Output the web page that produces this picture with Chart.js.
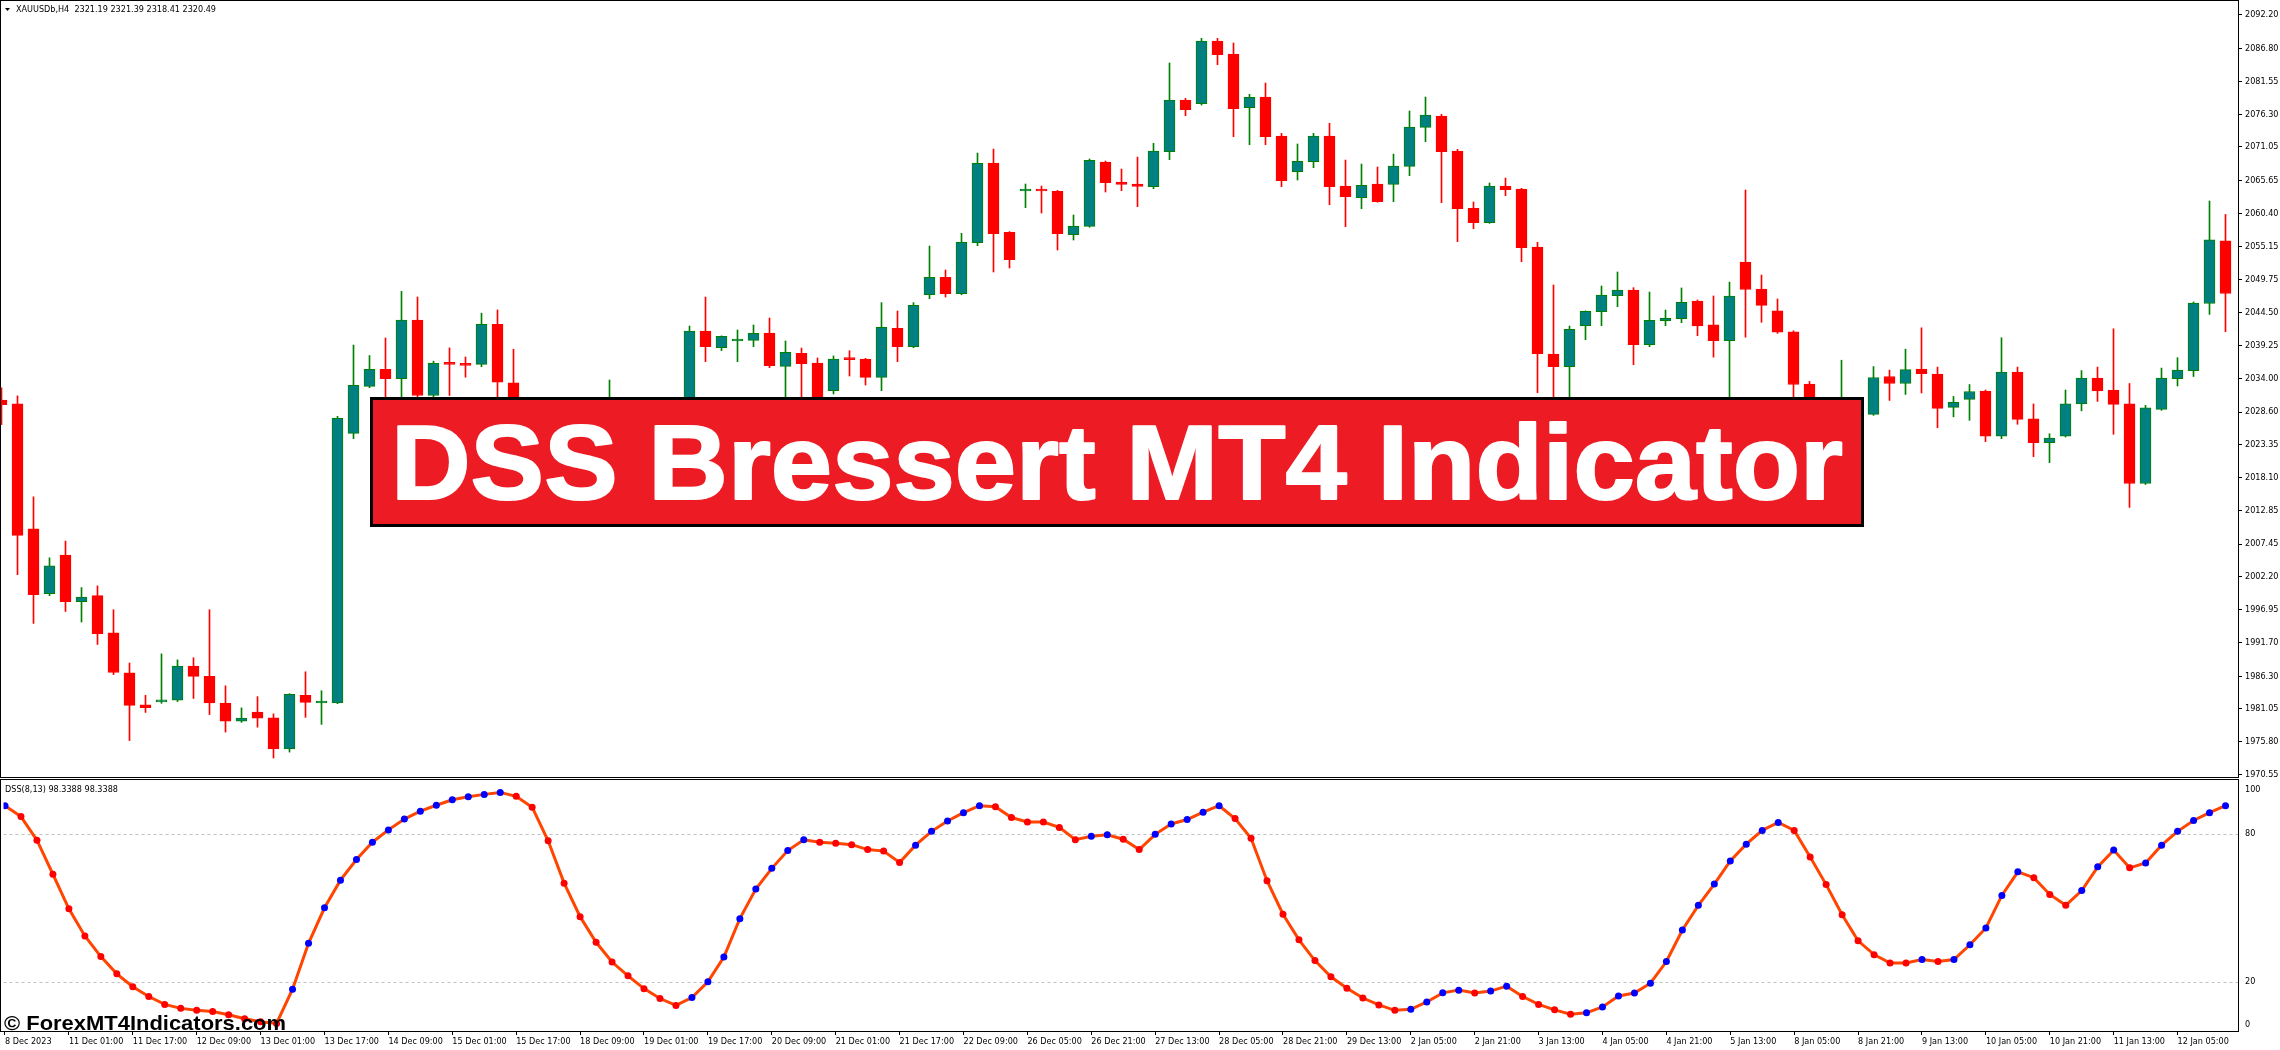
<!DOCTYPE html>
<html>
<head>
<meta charset="utf-8">
<title>DSS Bressert MT4 Indicator</title>
<script src="https://cdn.jsdelivr.net/npm/chart.js@4.4.1/dist/chart.umd.min.js"></script>
<style>
  html, body { margin: 0; padding: 0; background: #fff; }
  #wrap { position: relative; width: 2280px; height: 1050px; overflow: hidden; background: #fff; }
  canvas { position: absolute; left: 0; }
  #price { top: 0; }
  #dss { top: 779px; }
</style>
</head>
<body>
<div id="wrap">
  <canvas id="price" width="2280" height="779"></canvas>
  <canvas id="dss" width="2280" height="271"></canvas>
</div>
<script>
// XAUUSDb H4 candles (bars hidden by the banner are estimates)
const opens = [
  2030.52, 2029.90, 2009.91, 1999.52, 2005.70, 1998.23, 1999.19, 1993.24, 1986.83, 1981.72,
  1982.17, 1982.45, 1987.90, 1986.27, 1982.00, 1979.08, 1980.54, 1979.64, 1974.65, 1983.24,
  1982.00, 1982.00, 2025.18, 2032.71, 2035.46, 2033.94, 2043.32, 2031.25, 2036.41, 2036.24,
  2036.24, 2042.65, 2033.27, 2028.50, 2025.00, 2026.80, 2022.50, 2019.80, 2020.80, 2022.20,
  2019.00, 2016.80, 2018.50, 2017.20, 2041.58, 2038.91, 2039.98, 2040.08, 2041.26, 2035.92,
  2038.00, 2036.45, 2032.02, 2037.04, 2037.09, 2034.16, 2042.01, 2039.07, 2047.40, 2050.17,
  2047.56, 2055.72, 2068.48, 2057.38, 2064.00, 2064.11, 2063.95, 2057.01, 2058.34, 2068.64,
  2065.44, 2065.12, 2064.69, 2070.30, 2078.57, 2077.98, 2088.02, 2085.94, 2077.34, 2079.05,
  2072.81, 2067.09, 2068.70, 2072.81, 2064.80, 2062.93, 2065.12, 2065.07, 2067.95, 2074.20,
  2076.01, 2070.40, 2061.22, 2058.93, 2064.80, 2064.32, 2055.03, 2037.89, 2035.87, 2042.43,
  2044.68, 2047.24, 2048.14, 2039.39, 2043.23, 2043.56, 2046.39, 2042.57, 2040.02, 2052.61,
  2048.31, 2044.80, 2041.46, 2033.09, 2026.20, 2023.00, 2029.40, 2028.23, 2034.29, 2033.17,
  2035.48, 2034.68, 2029.35, 2030.62, 2031.97, 2024.73, 2035.00, 2027.51, 2023.69, 2024.73,
  2029.90, 2034.04, 2032.13, 2029.90, 2017.16, 2029.03, 2033.96, 2035.24, 2045.99, 2056.03
];
const highs = [
  2032.48, 2031.19, 2015.02, 2005.25, 2007.94, 2000.48, 2000.76, 1996.94, 1988.40, 1983.24,
  1989.87, 1988.91, 1989.25, 1996.94, 1984.75, 1981.22, 1983.02, 1980.26, 1983.50, 1987.00,
  1983.97, 2027.93, 2039.33, 2037.65, 2040.46, 2047.92, 2047.03, 2036.75, 2038.88, 2037.42,
  2044.44, 2044.95, 2038.66, 2029.80, 2028.20, 2027.50, 2023.60, 2022.40, 2033.73, 2023.00,
  2020.40, 2019.60, 2019.80, 2042.38, 2047.02, 2040.80, 2041.74, 2042.54, 2043.66, 2039.98,
  2038.85, 2037.26, 2037.58, 2038.43, 2037.20, 2046.12, 2044.78, 2046.12, 2055.19, 2051.35,
  2057.22, 2070.08, 2070.72, 2057.50, 2065.12, 2064.80, 2064.10, 2060.15, 2069.12, 2068.80,
  2067.52, 2069.44, 2071.63, 2084.50, 2078.84, 2088.45, 2088.45, 2087.70, 2079.48, 2081.29,
  2073.23, 2071.53, 2073.23, 2074.84, 2068.96, 2068.32, 2067.84, 2069.92, 2076.81, 2079.05,
  2076.28, 2070.67, 2062.24, 2065.28, 2066.08, 2064.43, 2055.78, 2048.95, 2042.38, 2044.80,
  2048.79, 2051.03, 2048.52, 2047.82, 2044.94, 2048.47, 2046.55, 2047.19, 2049.42, 2064.16,
  2050.54, 2046.71, 2041.62, 2033.50, 2027.80, 2036.90, 2030.60, 2035.88, 2035.32, 2038.67,
  2042.09, 2035.80, 2031.10, 2033.01, 2032.13, 2040.50, 2035.80, 2029.90, 2025.12, 2032.13,
  2035.24, 2035.80, 2041.93, 2033.17, 2029.67, 2035.64, 2037.31, 2046.23, 2062.40, 2060.25
];
const lows = [
  2026.59, 2002.55, 1994.75, 1999.20, 1996.66, 1994.97, 1991.38, 1986.55, 1975.99, 1980.49,
  1981.95, 1982.23, 1982.73, 1980.15, 1977.34, 1978.90, 1978.13, 1973.19, 1974.14, 1979.70,
  1978.58, 1981.90, 2024.34, 2032.50, 2030.00, 2029.50, 2029.80, 2029.60, 2031.25, 2034.17,
  2035.85, 2030.20, 2027.50, 2023.80, 2023.50, 2021.20, 2018.50, 2018.20, 2019.50, 2017.90,
  2015.50, 2015.20, 2015.80, 2016.50, 2036.67, 2038.43, 2036.67, 2039.07, 2035.71, 2029.80,
  2030.00, 2029.80, 2031.49, 2034.37, 2032.93, 2032.02, 2036.67, 2038.90, 2046.76, 2047.02,
  2047.40, 2055.24, 2051.03, 2051.67, 2061.33, 2060.47, 2054.55, 2056.15, 2058.20, 2063.84,
  2064.05, 2061.49, 2064.37, 2069.02, 2076.06, 2077.77, 2084.23, 2072.70, 2071.42, 2071.42,
  2064.69, 2065.76, 2067.74, 2061.81, 2058.29, 2061.17, 2062.20, 2062.29, 2066.45, 2071.90,
  2062.13, 2055.89, 2057.97, 2058.82, 2063.25, 2052.68, 2031.70, 2029.00, 2029.50, 2040.19,
  2042.43, 2045.48, 2036.19, 2039.07, 2042.43, 2042.91, 2040.82, 2037.39, 2029.50, 2040.58,
  2042.97, 2041.20, 2030.00, 2025.00, 2021.60, 2022.40, 2026.30, 2028.07, 2030.46, 2031.42,
  2031.66, 2026.08, 2027.83, 2027.28, 2023.85, 2024.33, 2026.64, 2021.46, 2020.50, 2024.60,
  2028.79, 2030.30, 2025.04, 2013.33, 2017.00, 2028.87, 2032.77, 2034.29, 2044.24, 2041.46
];
const closes = [
  2029.79, 2008.84, 1999.35, 2003.96, 1998.23, 1998.96, 1993.12, 1986.89, 1981.61, 1981.27,
  1982.51, 1987.90, 1986.27, 1982.00, 1979.08, 1979.59, 1979.59, 1974.65, 1983.41, 1982.11,
  1982.11, 2027.60, 2032.88, 2035.46, 2033.94, 2043.32, 2031.25, 2036.41, 2036.24, 2036.08,
  2042.65, 2033.38, 2028.50, 2025.00, 2026.80, 2022.50, 2019.80, 2021.00, 2022.20, 2019.00,
  2016.80, 2018.50, 2017.20, 2041.58, 2039.07, 2040.72, 2040.14, 2041.20, 2036.03, 2038.16,
  2036.35, 2030.60, 2037.09, 2036.99, 2034.16, 2042.16, 2039.07, 2045.69, 2050.17, 2047.56,
  2055.78, 2068.43, 2057.17, 2053.00, 2064.11, 2064.00, 2057.17, 2058.34, 2068.91, 2065.33,
  2065.07, 2064.75, 2070.40, 2078.57, 2077.02, 2088.02, 2085.83, 2077.18, 2079.00, 2072.70,
  2065.65, 2068.75, 2072.81, 2064.69, 2063.09, 2064.91, 2062.29, 2068.00, 2074.25, 2076.17,
  2070.30, 2061.17, 2058.93, 2064.80, 2064.21, 2054.92, 2037.95, 2035.87, 2041.85, 2044.73,
  2047.34, 2048.14, 2039.39, 2043.29, 2043.61, 2046.17, 2042.41, 2040.02, 2047.19, 2048.23,
  2045.68, 2041.38, 2033.01, 2026.20, 2023.00, 2029.40, 2028.20, 2034.13, 2033.17, 2035.40,
  2034.76, 2029.19, 2030.14, 2031.89, 2024.73, 2035.00, 2027.43, 2023.69, 2024.41, 2029.90,
  2034.04, 2031.97, 2029.82, 2017.16, 2029.27, 2034.04, 2035.32, 2046.07, 2056.19, 2047.59
];

// DSS Bressert (8,13) values, one per candle
const dssValues = [
  91.5, 87.1, 77.5, 63.7, 49.7, 38.7, 30.3, 23.3, 18.1, 14.1,
  10.9, 9.3, 8.5, 8.0, 6.7, 5.1, 3.9, 3.2, 17.1, 35.7,
  50.1, 61.3, 69.7, 76.7, 81.7, 86.1, 89.3, 91.7, 93.9, 95.1,
  96.1, 96.9, 95.3, 90.9, 77.3, 60.1, 46.5, 36.1, 28.1, 22.5,
  17.3, 13.3, 10.5, 13.7, 20.1, 30.1, 45.7, 57.7, 66.1, 73.3,
  77.7, 76.7, 76.3, 75.7, 73.7, 73.1, 68.5, 75.5, 81.1, 85.3,
  88.7, 91.5, 91.1, 86.7, 84.9, 84.9, 82.7, 77.7, 79.1, 79.7,
  77.9, 73.7, 79.9, 84.1, 85.9, 88.9, 91.5, 86.3, 78.3, 61.1,
  47.5, 37.1, 28.7, 22.1, 17.5, 13.5, 10.7, 8.5, 8.9, 11.9,
  15.6, 16.7, 15.5, 16.3, 18.3, 14.1, 10.9, 8.7, 6.9, 7.5,
  9.9, 14.3, 15.5, 19.5, 28.3, 41.1, 51.1, 59.7, 69.1, 75.9,
  81.5, 84.7, 81.5, 70.7, 59.5, 47.3, 36.7, 31.1, 27.7, 27.7,
  29.1, 28.3, 29.1, 35.1, 41.9, 55.1, 64.7, 62.3, 55.5, 51.1,
  57.1, 66.7, 73.5, 66.3, 68.3, 75.5, 81.1, 85.5, 88.7, 91.5
];

// axis labels, one time label every 4 bars
const timeLabels = [
  '8 Dec 2023', '11 Dec 01:00', '11 Dec 17:00', '12 Dec 09:00', '13 Dec 01:00', '13 Dec 17:00',
  '14 Dec 09:00', '15 Dec 01:00', '15 Dec 17:00', '18 Dec 09:00', '19 Dec 01:00', '19 Dec 17:00',
  '20 Dec 09:00', '21 Dec 01:00', '21 Dec 17:00', '22 Dec 09:00', '26 Dec 05:00', '26 Dec 21:00',
  '27 Dec 13:00', '28 Dec 05:00', '28 Dec 21:00', '29 Dec 13:00', '2 Jan 05:00', '2 Jan 21:00',
  '3 Jan 13:00', '4 Jan 05:00', '4 Jan 21:00', '5 Jan 13:00', '8 Jan 05:00', '8 Jan 21:00',
  '9 Jan 13:00', '10 Jan 05:00', '10 Jan 21:00', '11 Jan 13:00', '12 Jan 05:00'
];
const priceTicks = [
  2092.20, 2086.80, 2081.55, 2076.30, 2071.05, 2065.65, 2060.40, 2055.15, 2049.75, 2044.50,
  2039.25, 2034.00, 2028.60, 2023.35, 2018.10, 2012.85, 2007.45, 2002.20, 1996.95, 1991.70,
  1986.30, 1981.05, 1975.80, 1970.55
];
const dssLevels = [80, 20];
const dssAxisLabels = [100, 80, 20, 0];

const BAR_STEP = 16;
const X_MIN = -1.5 / BAR_STEP;
const X_MAX = X_MIN + 2238 / BAR_STEP;
const PRICE_MIN = 1969.99;
const PRICE_MAX = 2094.59;

const SMALL_FAMILY = '"DejaVu Sans Condensed", "DejaVu Sans", sans-serif';
const smallFont = { family: SMALL_FAMILY, size: 9 };

function isBull(i) {
  return i !== undefined && closes[i] >= opens[i];
}

// axes keep a fixed size and must not shrink the plot for their labels
function fixAxis(size) {
  return s => {
    if (s.isHorizontal()) s.height = size; else s.width = size;
    s.paddingTop = 0;
    s.paddingBottom = 0;
    s.paddingLeft = 0;
    s.paddingRight = 0;
  };
}

// fit a text into a given width by stretching it horizontally
function drawFitted(ctx, text, x, y, width, font, fill, stroke) {
  ctx.save();
  ctx.font = font;
  const w = ctx.measureText(text).width;
  ctx.translate(x, y);
  ctx.scale(width / w, 1);
  ctx.textBaseline = 'alphabetic';
  ctx.textAlign = 'left';
  if (stroke) {
    ctx.lineJoin = 'round';
    ctx.lineWidth = stroke;
    ctx.strokeStyle = fill;
    ctx.strokeText(text, 0, 0);
  }
  ctx.fillStyle = fill;
  ctx.fillText(text, 0, 0);
  ctx.restore();
}

const priceDecor = {
  id: 'priceDecor',
  afterDraw(chart) {
    const ctx = chart.ctx;
    const a = chart.chartArea;
    ctx.save();
    // window frame
    ctx.strokeStyle = '#000';
    ctx.lineWidth = 1;
    ctx.strokeRect(0.5, 0.5, a.right, 777);

    // symbol line
    ctx.fillStyle = '#000';
    ctx.beginPath();
    ctx.moveTo(5, 8);
    ctx.lineTo(10, 8);
    ctx.lineTo(7.5, 11);
    ctx.closePath();
    ctx.fill();
    ctx.font = '9px ' + SMALL_FAMILY;
    ctx.textBaseline = 'alphabetic';
    ctx.fillText('XAUUSDb,H4  2321.19 2321.39 2318.41 2320.49', 16, 12);

    // title banner
    ctx.fillStyle = '#ed1c24';
    ctx.fillRect(370, 397, 1494, 130);
    ctx.lineWidth = 3;
    ctx.strokeStyle = '#000';
    ctx.strokeRect(371.5, 398.5, 1491, 127);
    ctx.restore();
    drawFitted(ctx, 'DSS Bressert MT4 Indicator', 391, 499, 1452,
      'bold 105px "Liberation Sans", Arial, sans-serif', '#fff', 2);
  }
};

const dssDecor = {
  id: 'dssDecor',
  beforeDatasetsDraw(chart) {
    const ctx = chart.ctx;
    const a = chart.chartArea;
    const y = chart.scales.y;
    ctx.save();
    ctx.strokeStyle = '#c0c0c0';
    ctx.lineWidth = 1;
    ctx.setLineDash([3, 3]);
    dssLevels.forEach(v => {
      const py = Math.round(y.getPixelForValue(v)) + 0.5;
      ctx.beginPath();
      ctx.moveTo(a.left, py);
      ctx.lineTo(a.right, py);
      ctx.stroke();
    });
    ctx.restore();
  },
  afterDraw(chart) {
    const ctx = chart.ctx;
    const a = chart.chartArea;
    const y = chart.scales.y;
    ctx.save();
    ctx.strokeStyle = '#000';
    ctx.lineWidth = 1;
    ctx.strokeRect(0.5, 0.5, a.right, a.bottom);

    ctx.fillStyle = '#000';
    ctx.font = '9px ' + SMALL_FAMILY;
    ctx.textBaseline = 'alphabetic';
    ctx.fillText('DSS(8,13) 98.3388 98.3388', 5, 13);

    // level labels on the right scale, kept inside the window like MT4 does
    ctx.textBaseline = 'middle';
    dssAxisLabels.forEach(v => {
      let py = y.getPixelForValue(v);
      py = Math.min(Math.max(py, a.top + 7), a.bottom - 6);
      ctx.fillText(String(v), a.right + 7, py);
    });
    ctx.restore();

    drawFitted(ctx, '\u00a9 ForexMT4Indicators.com', 4, 251, 282,
      'bold 21px "Liberation Sans", Arial, sans-serif', '#000', 0);
  }
};

const idx = opens.map((_, i) => i);

new Chart(document.getElementById('price'), {
  type: 'bar',
  data: {
    datasets: [
      {
        label: 'body',
        data: idx.map(i => ({ x: i, y: [opens[i], closes[i]] })),
        backgroundColor: c => isBull(c.dataIndex) ? '#008080' : '#ff0000',
        borderColor: c => isBull(c.dataIndex) ? '#008000' : '#ff0000',
        borderWidth: 1,
        borderSkipped: false,
        barThickness: 11,
        minBarLength: 2,
        grouped: false,
        order: 0
      },
      {
        label: 'wick',
        data: idx.map(i => ({ x: i, y: [lows[i], highs[i]] })),
        backgroundColor: c => isBull(c.dataIndex) ? '#008000' : '#ff0000',
        borderWidth: 0,
        barThickness: 1,
        grouped: false,
        order: 1
      }
    ]
  },
  options: {
    responsive: false,
    animation: false,
    devicePixelRatio: 1,
    layout: { padding: { left: 0, right: 0, top: 0, bottom: 1 } },
    plugins: { legend: { display: false }, tooltip: { enabled: false } },
    scales: {
      x: { type: 'linear', min: X_MIN, max: X_MAX, offset: false, display: false },
      y: {
        position: 'right',
        min: PRICE_MIN,
        max: PRICE_MAX,
        afterBuildTicks: s => { s.ticks = priceTicks.map(v => ({ value: v })); },
        afterFit: fixAxis(42),
        ticks: {
          callback: v => Number(v).toFixed(2),
          color: '#000',
          font: smallFont,
          padding: 3,
          autoSkip: false
        },
        grid: { drawOnChartArea: false, drawTicks: true, tickLength: 4, tickColor: '#000' },
        border: { display: false }
      }
    }
  },
  plugins: [priceDecor]
});

new Chart(document.getElementById('dss'), {
  type: 'line',
  data: {
    datasets: [{
      label: 'DSS',
      data: idx.map(i => ({ x: i, y: dssValues[i] })),
      borderColor: '#ff4500',
      borderWidth: 3,
      tension: 0,
      pointRadius: 3.5,
      pointHoverRadius: 3.5,
      pointBorderWidth: 0,
      pointBackgroundColor: c => {
        const i = c.dataIndex;
        if (i === undefined) return '#0000ff';
        return i === 0 || dssValues[i] > dssValues[i - 1] ? '#0000ff' : '#ff0000';
      }
    }]
  },
  options: {
    responsive: false,
    animation: false,
    devicePixelRatio: 1,
    layout: { padding: 0 },
    plugins: { legend: { display: false }, tooltip: { enabled: false } },
    scales: {
      x: {
        type: 'linear',
        min: X_MIN,
        max: X_MAX,
        afterBuildTicks: s => { s.ticks = timeLabels.map((_, k) => ({ value: k * 4 })); },
        afterFit: fixAxis(19),
        ticks: {
          callback: (v, k) => timeLabels[k],
          align: 'start',
          maxRotation: 0,
          minRotation: 0,
          autoSkip: false,
          padding: 1,
          color: '#000',
          font: smallFont
        },
        grid: { drawOnChartArea: false, drawTicks: true, tickLength: 4, tickColor: '#000' },
        border: { display: false }
      },
      y: {
        position: 'right',
        min: 0.12,
        max: 100.92,
        afterFit: fixAxis(42),
        ticks: { display: false },
        grid: { display: false },
        border: { display: false }
      }
    }
  },
  plugins: [dssDecor]
});
</script>
</body>
</html>
